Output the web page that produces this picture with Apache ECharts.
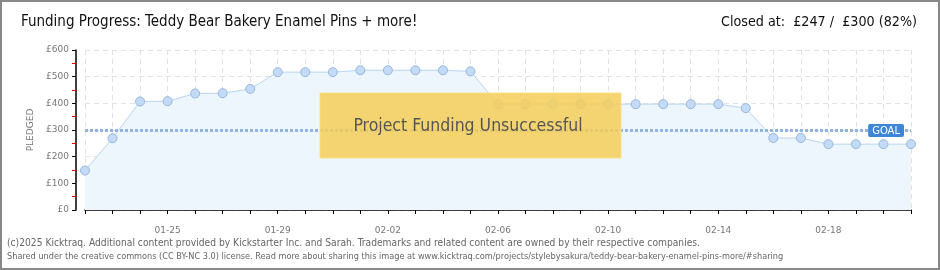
<!DOCTYPE html>
<html><head><meta charset="utf-8">
<script src="https://cdn.jsdelivr.net/npm/echarts@6/dist/echarts.min.js"></script>
<style>html,body{margin:0;padding:0;background:#fff}#c{width:940px;height:270px}</style>
</head><body><div id="c"></div>
<script>
const categories = ['01-22','01-23','01-24','01-25','01-26','01-27','01-28','01-29','01-30','01-31','02-01','02-02','02-03','02-04','02-05','02-06','02-07','02-08','02-09','02-10','02-11','02-12','02-13','02-14','02-15','02-16','02-17','02-18','02-19','02-20','02-21'];
const pledged = [148,269,407,408,437,438,454,517,517,517,524,524,524,524,520,397,397,397,397,397,397,397,397,397,382,270,270,247,247,247,247];
const goal = 300;
const yTicks = [0,100,200,300,400,500,600];
const titleText = 'Funding Progress: Teddy Bear Bakery Enamel Pins + more!';
const closedText = 'Closed at:  £247 /  £300 (82%)';
const footer1 = '(c)2025 Kicktraq. Additional content provided by Kickstarter Inc. and Sarah. Trademarks and related content are owned by their respective companies.';
const footer2 = 'Shared under the creative commons (CC BY-NC 3.0) license. Read more about sharing this image at www.kicktraq.com/projects/stylebysakura/teddy-bear-bakery-enamel-pins-more/#sharing';
const statusText = 'Project Funding Unsuccessful';

const chart = echarts.init(document.getElementById('c'), null, {renderer:'canvas'});
const smallFont = 'DejaVu Sans';
chart.setOption({
  animation: false,
  grid: {left: 85, right: 29, top: 50, bottom: 60, containLabel: false},
  xAxis: {
    type: 'category', data: categories, boundaryGap: false, offset: 10,
    axisLine: {lineStyle: {color: '#000', width: 1.5}},
    axisTick: {show: true, interval: 0, length: 4, lineStyle: {color: '#000'}},
    axisLabel: {interval: (i) => i % 4 === 3, color: '#777', fontSize: 9, fontFamily: smallFont, margin: 6},
    splitLine: {show: true, interval: 0, lineStyle: {color: '#e2e2e2', type: [5,4]}}
  },
  yAxis: {
    type: 'value', min: yTicks[0], max: yTicks[yTicks.length-1], interval: 100, offset: 9,
    name: 'PLEDGED', nameLocation: 'middle', nameGap: 40, nameRotate: 90,
    nameTextStyle: {color: '#777', fontSize: 9, fontFamily: smallFont},
    axisLine: {show: true, lineStyle: {color: '#000', width: 1.5}},
    axisTick: {show: true, length: 4, lineStyle: {color: '#000'}},
    minorTick: {show: true, splitNumber: 2, length: 4, lineStyle: {color: '#e00'}},
    axisLabel: {formatter: v => '£' + v, color: '#777', fontSize: 9, fontFamily: smallFont, margin: 7},
    splitLine: {show: true, lineStyle: {color: '#e2e2e2', type: [5,4]}}
  },
  series: [{
    type: 'line', data: pledged, symbol: 'circle', symbolSize: 9,
    itemStyle: {color: '#c3dbf6', borderColor: '#97b6dd', borderWidth: 1},
    lineStyle: {color: '#b9d4f2', width: 1},
    areaStyle: {color: '#edf5fd', opacity: 1},
    markLine: {
      silent: true, symbol: 'none',
      lineStyle: {color: '#8fb4e2', width: 3, type: [3,2]},
      data: [{yAxis: goal}],
      label: {show: true, position: 'insideEndTop', distance: [7, -7], formatter: 'GOAL',
        backgroundColor: '#3d86d8', color: '#fff', fontSize: 10, fontFamily: smallFont,
        padding: [2,4,1,4], borderRadius: 2}
    }
  }],
  graphic: [
    {type: 'rect', shape: {x: 320, y: 93, width: 301, height: 65}, z: 100,
      style: {fill: 'rgba(245,206,88,0.85)', stroke: 'rgba(250,225,130,0.9)', lineWidth: 1}},
    {type: 'text', x: 468, y: 126, z: 101, style: {text: statusText, fill: '#555', font: '17.5px "DejaVu Sans Condensed"', align: 'center', verticalAlign: 'middle', textShadowColor: '#fff', textShadowOffsetX: 1, textShadowOffsetY: 1}},
    {type: 'text', x: 21, y: 22, z: 101, style: {text: titleText, fill: '#111', font: '15px "DejaVu Sans Condensed"', verticalAlign: 'middle'}},
    {type: 'text', x: 917, y: 22, z: 101, style: {text: closedText, fill: '#111', font: '14.2px "DejaVu Sans Condensed"', align: 'right', verticalAlign: 'middle'}},
    {type: 'text', x: 7, y: 243, z: 101, style: {text: footer1, fill: '#666', font: '10.2px "DejaVu Sans Condensed"', verticalAlign: 'middle'}},
    {type: 'text', x: 7, y: 257, z: 101, style: {text: footer2, fill: '#666', font: '9.1px "DejaVu Sans Condensed"', verticalAlign: 'middle'}},
    {type: 'rect', shape: {x: 1, y: 1, width: 938, height: 268}, z: 102, style: {fill: 'none', stroke: '#888', lineWidth: 2}}
  ]
});
</script></body></html>
